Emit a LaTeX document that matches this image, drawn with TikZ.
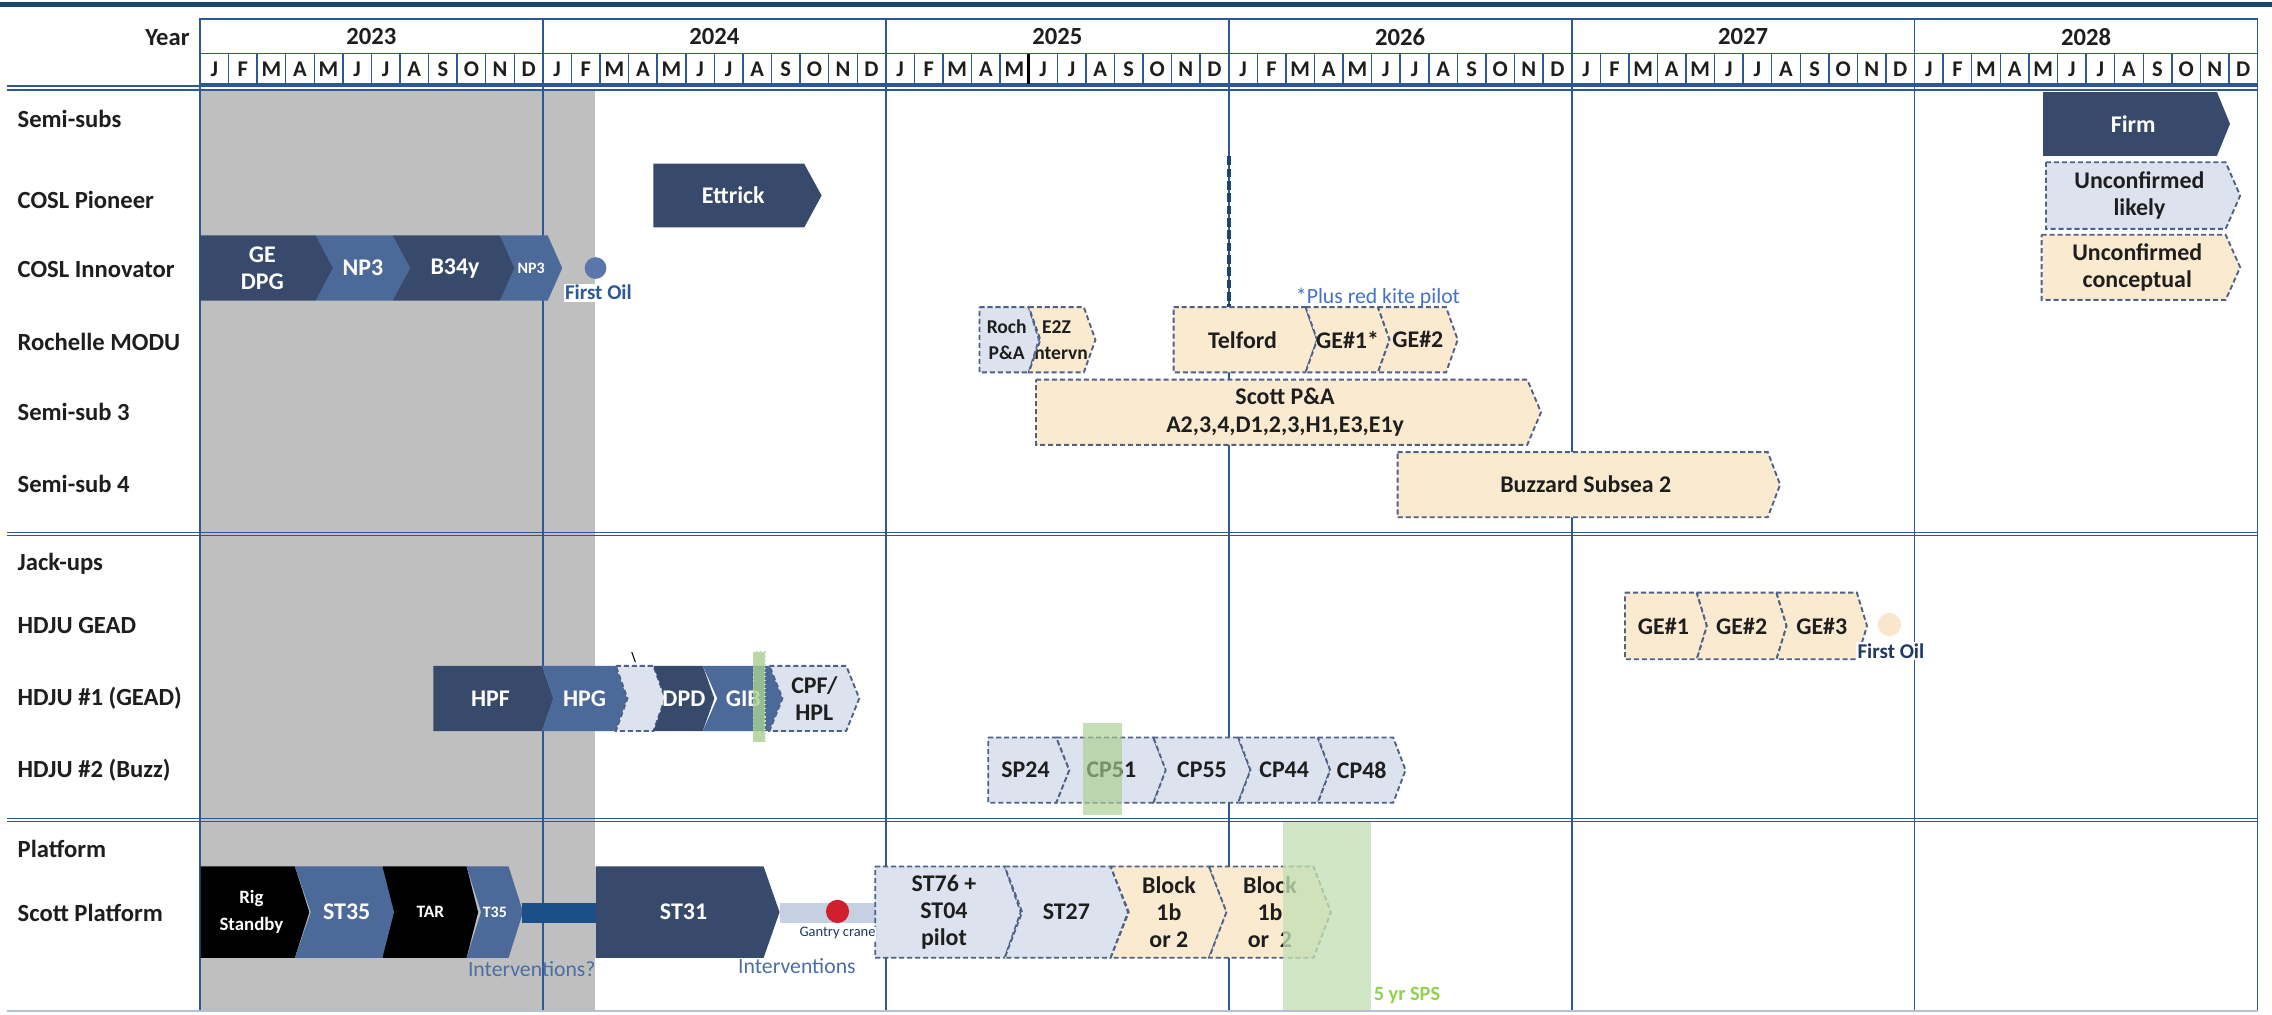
\documentclass[tikz,border=0pt]{standalone}
\usepackage{fontspec}
\setmainfont{Carlito}
\definecolor{firmc}{HTML}{374A6B}
\definecolor{medc}{HTML}{4C6A99}
\definecolor{likc}{HTML}{DCE3EE}
\definecolor{conc}{HTML}{FAEBD0}
\definecolor{dashc}{HTML}{4F6188}
\definecolor{gridc}{HTML}{2C5894}
\definecolor{greyc}{HTML}{BFBFBF}
\definecolor{topc}{HTML}{1B4571}
\definecolor{greenc}{HTML}{C5E0B4}
\definecolor{green2c}{HTML}{A9CF8F}
\definecolor{greentxt}{HTML}{92D050}
\definecolor{bluetxt}{HTML}{4A6FA5}
\definecolor{kitec}{HTML}{4472C4}
\definecolor{barc}{HTML}{1B4F8A}
\definecolor{lbarc}{HTML}{C5D0E2}
\definecolor{redc}{HTML}{D0202E}
\definecolor{oilc}{HTML}{5B76AA}
\definecolor{oiltwoc}{HTML}{FAE6CC}
\definecolor{txtc}{HTML}{1E1E1E}
\definecolor{navytxt}{HTML}{1F3864}
\definecolor{bottomc}{HTML}{B4C0D4}

\newcommand\smf{\fontsize{13.5}{15}\selectfont}
\newcommand\rigf{\fontsize{13}{14}\selectfont}
\newcommand\tightf{\fontsize{16.5}{17}\selectfont}

\tikzset{
  firm/.style={fill=firmc},
  med/.style={fill=medc},
  blk/.style={fill=black},
  lik/.style={fill=likc, draw=dashc, line width=1.3pt, dash pattern=on 3.5pt off 2pt},
  con/.style={fill=conc, draw=dashc, line width=1.3pt, dash pattern=on 3.5pt off 2pt},
  wtxt/.style={text=white, font=\bfseries\fontsize{16.5}{18.5}\selectfont, align=center, inner sep=0pt},
  dtxt/.style={text=txtc, font=\bfseries\fontsize{16.5}{18.5}\selectfont, align=center, inner sep=0pt},
  firm txt/.style={wtxt},
  med txt/.style={wtxt},
  blk txt/.style={wtxt},
  lik txt/.style={dtxt},
  con txt/.style={dtxt},
  rowlbl/.style={anchor=west, text=txtc, font=\bfseries\fontsize{17}{19}\selectfont, inner sep=0pt},
  hdr/.style={text=txtc, font=\bfseries\fontsize{17}{19}\selectfont, inner sep=0pt},
  mon/.style={text=txtc, font=\bfseries\fontsize{15.5}{17}\selectfont, inner sep=0pt},
  gridln/.style={draw=gridc, line width=1.2pt},
  note/.style={font=\fontsize{15}{17}\selectfont, inner sep=1pt},
}

% #1 style, #2 name, #3 x start, #4 x body end, #5 point depth, #6 notch (0/1), #7 y centre, #8 half height, #9 text
\newcommand\ganttbar[9]{%
  \path[#1] (#3,#7-#8) -- (#4,#7-#8) -- (#4+#5,#7) -- (#4,#7+#8) -- (#3,#7+#8) -- (#3+#6*#5,#7) -- cycle;
  \node[#1 txt] (#2) at ({(#3+#4)/2+#5/4+#6*#5/4},#7) {#9};
}

\begin{document}
\begin{tikzpicture}[x=1pt,y=-1pt]
\useasboundingbox (0,0) rectangle (1568,700);
\fill[white] (0,0) rectangle (1568,700);

% top rule
\draw[topc, line width=3pt] (0,3.2) -- (1568,3.2);

% grey past area
\fill[greyc] (138,62) rectangle (410.5,697);

% header grid
\draw[gridln] (138,13) rectangle (1558,58);
\draw[gridln] (138,37) -- (1558,37);
\foreach \j in {1,...,71} \draw[gridln, line width=1pt] ({138+\j*19.7222},37) -- ++(0,21);
\foreach \k in {0,...,6} \draw[gridln] ({138+\k*236.667},13) -- ({138+\k*236.667},697);
\draw[black, line width=2pt] (709.9,37) -- (709.9,58);

% horizontal rules
\draw[gridc, line width=1pt] (5,59.5) -- (1558,59.5);
\draw[gridc, line width=1pt] (5,62) -- (1558,62);
\draw[gridc, line width=1pt] (5,367.5) -- (1558,367.5);
\draw[gridc, line width=1pt] (5,369.5) -- (1558,369.5);
\draw[gridc, line width=1pt] (5,565) -- (1558,565);
\draw[gridc, line width=1pt] (5,567) -- (1558,567);
\draw[bottomc, line width=1.5pt] (5,698) -- (1558,698);

% header text
\node[hdr, anchor=east] (yearlbl) at (131,26) {Year};
\foreach \yr [count=\k from 0] in {2023,2024,2025,2026,2027,2028} {
  \node[hdr] (y\yr) at ({138+(\k+0.5)*236.667},25.5) {\yr};
  \foreach \m [count=\i from 0] in {J,F,M,A,M,J,J,A,S,O,N,D}
    \node[mon] (m\yr-\i) at ({138+(\k*12+\i+0.5)*19.7222},48) {\m};
}

% left labels
\node[rowlbl] (secsemi) at (12,82) {Semi-subs};
\node[rowlbl] (rpioneer) at (12,138) {COSL Pioneer};
\node[rowlbl] (rinnov) at (12,186) {COSL Innovator};
\node[rowlbl] (rroch) at (12,236) {Rochelle MODU};
\node[rowlbl] (rss3) at (12,284) {Semi-sub 3};
\node[rowlbl] (rss4) at (12,334) {Semi-sub 4};
\node[rowlbl] (secjack) at (12,389) {Jack-ups};
\node[rowlbl] (rgead) at (12,432) {HDJU GEAD};
\node[rowlbl] (rhd1) at (12,482) {HDJU \#1 (GEAD)};
\node[rowlbl] (rhd2) at (12,531.5) {HDJU \#2 (Buzz)};
\node[rowlbl] (secplat) at (12,586) {Platform};
\node[rowlbl] (rscott) at (12,630) {Scott Platform};

% legend
\ganttbar{firm}{lgfirm}{1410}{1530}{9}{0}{85.5}{22}{Firm}
\ganttbar{lik}{lglik}{1412}{1536}{10}{0}{135}{23}{Unconfirmed\\likely}
\ganttbar{con}{lgcon}{1409}{1536}{10}{0}{184.5}{22.5}{Unconfirmed\\conceptual}

% COSL Pioneer
\ganttbar{firm}{ettrick}{451}{555}{12}{0}{135}{22}{Ettrick}

% COSL Innovator
\ganttbar{firm}{gedpg}{138}{218}{12}{0}{185}{22.5}{GE\\DPG}
\ganttbar{med}{npthree}{218}{271}{12}{1}{185}{22.5}{NP3}
\ganttbar{firm}{bthreefour}{271}{345}{12}{1}{185}{22.5}{B34y}
\ganttbar{med}{npthreeb}{345}{378}{10}{1}{185}{22.5}{\fontsize{11}{12}\selectfont NP3}
\node[circle, fill=oilc, minimum size=15pt, inner sep=0pt] (oilone) at (411,185) {};
\node[note, fill=white, text=gridc, font=\bfseries\fontsize{14.5}{16}\selectfont] (oilonelbl) at (413,202) {First Oil};

% Rochelle MODU
\draw[topc, line width=2.6pt, dash pattern=on 6pt off 2.5pt] (848,108) -- (848,212);
\ganttbar{lik}{rochpa}{676}{710}{7}{0}{234.5}{22.5}{\smf Roch\\\smf P\&A}
\ganttbar{con}{etwoz}{710}{748}{8}{1}{234.5}{22.5}{}
\begin{scope}
  \clip (710,212) -- (748,212) -- (756,234.5) -- (748,257) -- (710,257) -- (718,234.5) -- cycle;
  \node[dtxt, anchor=west, font=\bfseries\smf] (etwozA) at (719,226) {E2Z};
  \node[dtxt, anchor=west, font=\bfseries\smf] (etwozB) at (710,244) {Intervn};
\end{scope}
\ganttbar{con}{telford}{810}{901}{8}{0}{234.5}{22.5}{Telford}
\ganttbar{con}{geone}{901}{951}{8}{1}{234.5}{22.5}{GE\#1*}
\ganttbar{con}{getwo}{951}{998}{8}{1}{234.5}{22.5}{GE\#2}
\node[note, text=kitec] (kite) at (951,205) {*Plus red kite pilot};

% Semi-sub 3 and 4
\ganttbar{con}{scottpa}{715}{1054}{9.5}{0}{284.5}{22.5}{Scott P\&A\\[1pt]A2,3,4,D1,2,3,H1,E3,E1y}
\ganttbar{con}{buzzard}{964.5}{1220}{8.5}{0}{334.5}{22.5}{Buzzard Subsea 2}

% HDJU GEAD
\ganttbar{con}{geadone}{1121.5}{1171}{7}{0}{432}{23}{GE\#1}
\ganttbar{con}{geadtwo}{1171}{1226}{7}{1}{432}{23}{GE\#2}
\ganttbar{con}{geadthree}{1226}{1281.5}{7}{1}{432}{23}{GE\#3}
\node[circle, fill=oiltwoc, minimum size=16pt, inner sep=0pt] (oiltwo) at (1304,431) {};
\node[note, fill=white, text=navytxt, font=\bfseries\fontsize{14.5}{16}\selectfont] (oiltwolbl) at (1305,449.5) {First Oil};

% HDJU #1 (GEAD)
\ganttbar{firm}{hpf}{299}{374}{8}{0}{482}{22.5}{HPF}
\ganttbar{med}{hpg}{374}{425}{8}{1}{482}{22.5}{HPG}
\ganttbar{lik}{hdgap}{425}{451}{8}{1}{482}{22.5}{}
\draw[black, line width=0.7pt] (436,450) -- (438.5,457) coordinate (tick);
\ganttbar{firm}{dpd}{451}{485}{8}{1}{482}{22.5}{DPD}
\ganttbar{med}{gib}{485}{531}{10}{1}{482}{22.5}{GIB}
\ganttbar{lik}{cpf}{531}{584}{9}{1}{482}{22.5}{CPF/\\HPL}
\fill[green2c, opacity=0.8] (520,450) rectangle (528,512);
\draw[greenc, line width=0.8pt, dotted] (520,450) rectangle (528,512);

% HDJU #2 (Buzz)
\ganttbar{lik}{sptf}{682}{729}{9}{0}{531.5}{22.5}{SP24}
\ganttbar{lik}{cpfo}{729}{796}{9}{1}{531.5}{22.5}{CP51}
\ganttbar{lik}{cpff}{796}{854.5}{8.5}{1}{531.5}{22.5}{CP55}
\ganttbar{lik}{cpff2}{854.5}{909.5}{8.5}{1}{531.5}{22.5}{CP44}
\ganttbar{lik}{cpfe}{909.5}{961.5}{8.5}{1}{531.5}{22.5}{CP48}
\fill[green2c, opacity=0.65] (747.6,499) rectangle (774.2,562.6);

% Scott Platform
\ganttbar{blk}{rig}{138.5}{203.5}{10}{0}{629.5}{31.5}{\rigf Rig\\\rigf Standby}
\ganttbar{med}{stA}{203.5}{264}{11}{1}{629.5}{31.5}{ST35}
\ganttbar{blk}{tar}{264}{322}{8}{1}{629.5}{31.5}{\fontsize{12}{13}\selectfont TAR}
\ganttbar{med}{stB}{322}{351}{10}{1}{629.5}{31.5}{\fontsize{11}{12}\selectfont T35}
\fill[barc] (360,623) rectangle (411,637);
\ganttbar{firm}{stthreeone}{411}{527}{11}{0}{629.5}{31.5}{ST31}
\fill[lbarc] (538,623) rectangle (604,637);
\node[circle, fill=redc, minimum size=16pt, inner sep=0pt] (gantry) at (578,629) {};
\node[note, text=bluetxt] (intq) at (367,669) {Interventions?};
\node[note, text=bluetxt] (intv) at (550,667) {Interventions};
\ganttbar{lik}{stsf}{604}{693.4}{11}{0}{629.5}{31.5}{ST76 +\\ST04\\pilot}
\node[note, fill=white, text=navytxt, font=\fontsize{10}{11}\selectfont, inner sep=0.5pt] (gantrylbl) at (578,644) {Gantry crane};
\ganttbar{lik}{stts}{693.4}{766.5}{12}{1}{629.5}{31.5}{ST27}
\ganttbar{con}{blockA}{766.5}{834.4}{12.5}{1}{629.5}{31.5}{\tightf Block\\\tightf 1b\\\tightf or 2}
\ganttbar{con}{blockB}{834.4}{906.5}{12}{1}{629.5}{31.5}{\tightf Block\\\tightf 1b\\\tightf or\ \ 2}
\fill[greenc, opacity=0.78] (885.6,567.5) rectangle (946.5,697);
\node[note, text=greentxt, font=\bfseries\fontsize{14}{16}\selectfont] (sps) at (971,687) {5 yr SPS};
\end{tikzpicture}
\end{document}
